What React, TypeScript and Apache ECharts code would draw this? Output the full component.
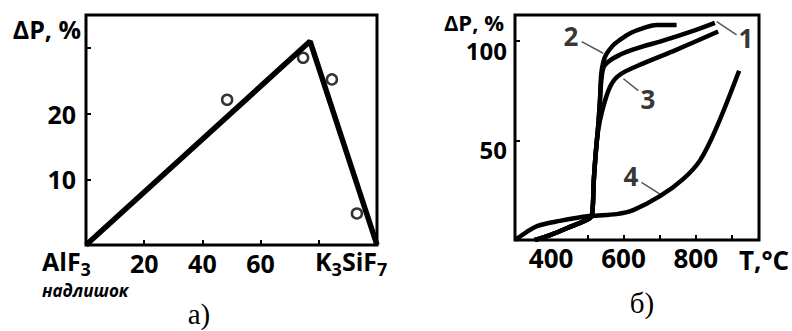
import React, { useEffect, useRef } from "react";
import * as echarts from "echarts";

// ---- Chart а) ----
const leftComp = [0, 77, 100];
const leftDP = [0, 31, 0];
const leftPointsComp = [48.5, 74.6, 84.5, 93.1];
const leftPointsDP = [22.1, 28.5, 25.2, 4.8];
const leftXTicks = [20, 40, 60, 80];
const leftXLabels = [20, 40, 60];
const leftYTicks = [10, 20, 30];
const leftYLabels = [10, 20];

// ---- Chart б) ----
const curve1T = [355, 397, 452, 507, 514, 518, 524, 530, 535, 540, 549, 590, 650, 701, 793, 853];
const curve1P = [0, 2.5, 6.6, 11, 14, 30, 45, 57, 70, 82, 88, 93, 97, 99.6, 105, 109];
const curve2T = [355, 397, 452, 507, 514, 518, 524, 530, 535, 539, 549, 570, 590, 620, 655, 692, 747];
const curve2P = [0, 2.5, 6.6, 11, 14, 30, 45, 57, 70, 84, 92, 97.5, 100.5, 104, 106.4, 108, 108];
const curve3T = [355, 397, 452, 507, 514, 518, 524, 530, 540, 563, 590, 655, 746, 862];
const curve3P = [0, 2.5, 6.6, 11, 14, 30, 45, 55, 64, 77, 83, 88.7, 95.5, 104.7];
const curve4T = [300, 328, 361, 424, 507, 581, 627, 701, 765, 812, 858, 920];
const curve4P = [0, 3.5, 7, 9.6, 12, 13, 15, 22, 30.6, 40, 56.7, 85];
const curveNames = ["1", "2", "3", "4"];
const labelT = [939, 455, 668, 621];
const labelP = [101.5, 102.5, 70.7, 32.3];
const leaderT = [[858, 913], [484.5, 544], [600, 641], [650, 701]];
const leaderP = [[109.7, 103], [99.6, 93.8], [81, 75], [29, 23]];
const rightXTicks = [500, 600, 700, 800, 900];
const rightXLabels = [400, 600, 800];
const rightYTicks = [50, 100];
const rightYLabels = [50, 100];

const FONT = "Open Sans";

const zip = (a: number[], b: number[]) => a.map((v, i) => [v, b[i]]);

function axis(
  idx: number,
  min: number,
  max: number,
  ticks: number[],
  labels: number[],
  labelExtra: any = {}
) {
  return {
    type: "value",
    gridIndex: idx,
    min,
    max,
    axisLine: { show: false },
    splitLine: { show: false },
    axisTick: {
      show: true,
      inside: true,
      length: 5,
      customValues: ticks,
      lineStyle: { color: "#000", width: 2 },
    },
    axisLabel: {
      customValues: labels,
      color: "#000",
      fontFamily: FONT,
      fontWeight: "bold",
      fontSize: 25,
      ...labelExtra,
    },
  };
}

const curves = [
  zip(curve1T, curve1P),
  zip(curve2T, curve2P),
  zip(curve3T, curve3P),
  zip(curve4T, curve4P),
];

const boldText = (x: number, y: number, text: string, size: number, align = "left", extra: any = {}) => ({
  type: "text",
  x,
  y,
  style: {
    text,
    fill: "#000",
    font: `bold ${size}px "${FONT}"`,
    align,
    verticalAlign: "middle",
    ...extra,
  },
});

const subRich = {
  a: { fontFamily: FONT, fontWeight: "bold", fontSize: 25, lineHeight: 22, verticalAlign: "top" },
  s: { fontFamily: FONT, fontWeight: "bold", fontSize: 18, lineHeight: 30, verticalAlign: "bottom" },
};

export default function App() {
  const ref = useRef<HTMLDivElement>(null);
  useEffect(() => {
    const chart = echarts.init(ref.current!, null, { renderer: "svg" });
    const option: any = {
      animation: false,
      backgroundColor: "#fff",
      grid: [
        { left: 86, top: 15, width: 291, height: 230, show: true, borderColor: "#000", borderWidth: 3, backgroundColor: "transparent" },
        { left: 515, top: 15, width: 244, height: 225, show: true, borderColor: "#000", borderWidth: 3, backgroundColor: "transparent" },
      ],
      xAxis: [
        axis(0, 0, 100, leftXTicks, leftXLabels, { margin: 5 }),
        axis(1, 300, 975, rightXTicks, rightXLabels, { fontSize: 26, margin: 5 }),
      ],
      yAxis: [
        axis(0, 0, 35, leftYTicks, leftYLabels, { margin: 10 }),
        axis(1, 0, 113, rightYTicks, rightYLabels, {
          fontSize: 24,
          margin: 8,
          verticalAlign: "top",
          lineHeight: 17,
          padding: [1, 0, 0, 0],
        }),
      ],
      series: [
        {
          type: "line",
          xAxisIndex: 0,
          yAxisIndex: 0,
          data: zip(leftComp, leftDP),
          showSymbol: false,
          lineStyle: { color: "#000", width: 5.5 },
          z: 3,
        },
        {
          type: "scatter",
          xAxisIndex: 0,
          yAxisIndex: 0,
          data: zip(leftPointsComp, leftPointsDP),
          symbol: "circle",
          symbolSize: 10,
          itemStyle: { color: "#fff", borderColor: "#000", borderWidth: 2.5 },
          z: 4,
        },
        ...curves.map((c) => ({
          type: "line",
          xAxisIndex: 1,
          yAxisIndex: 1,
          data: c,
          smooth: 0.35,
          showSymbol: false,
          lineStyle: { color: "#000", width: 4.5 },
          z: 3,
        })),
        ...leaderT.map((t, i) => ({
          type: "line",
          xAxisIndex: 1,
          yAxisIndex: 1,
          data: zip(t, leaderP[i]),
          showSymbol: false,
          lineStyle: { color: "#555", width: 1.5 },
          z: 2,
        })),
        {
          type: "scatter",
          xAxisIndex: 1,
          yAxisIndex: 1,
          symbolSize: 0,
          data: curveNames.map((n, i) => ({ name: n, value: [labelT[i], labelP[i]] })),
          label: {
            show: true,
            position: "inside",
            formatter: "{b}",
            color: "#000",
            fontFamily: FONT,
            fontWeight: "bold",
            fontSize: 26,
          },
          z: 5,
        },
      ],
      graphic: [
        boldText(81, 29, "ΔP, %", 25, "right"),
        boldText(504, 22, "ΔP, %", 22, "right"),
        boldText(764, 260, "T,°C", 26, "center"),
        {
          type: "text",
          x: 42,
          y: 248,
          style: { text: "{a|AlF}{s|3}", rich: subRich, fill: "#000", verticalAlign: "top" },
        },
        {
          type: "text",
          x: 315,
          y: 248,
          style: { text: "{a|K}{s|3}{a|SiF}{s|7}", rich: subRich, fill: "#000", verticalAlign: "top" },
        },
        boldText(42, 290, "надлишок", 17, "left", { font: `italic bold 17px "${FONT}"`, lineHeight: 13 }),
        {
          type: "text",
          x: 199,
          y: 314,
          style: { text: "а)", fill: "#000", font: `29px "Liberation Serif"`, align: "center", verticalAlign: "middle" },
        },
        {
          type: "text",
          x: 642,
          y: 303,
          style: { text: "б)", fill: "#000", font: `29px "Liberation Serif"`, align: "center", verticalAlign: "middle" },
        },
      ],
    };
    chart.setOption(option);
    return () => chart.dispose();
  }, []);
  return (
    <div
      ref={ref}
      style={{ position: "fixed", left: 0, top: 0, width: 792, height: 331, background: "#fff" }}
    />
  );
}
